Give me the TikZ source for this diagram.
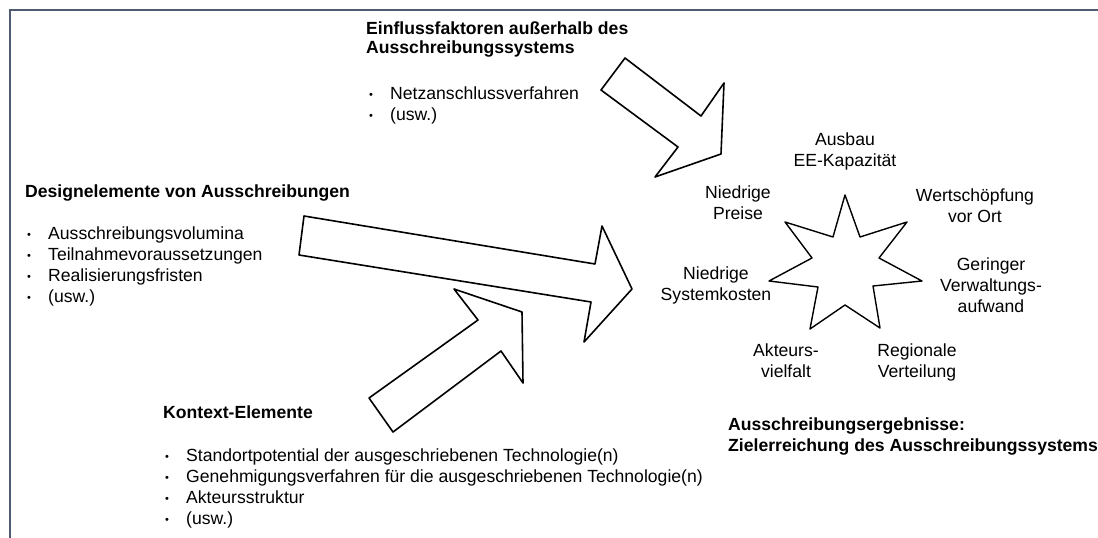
\documentclass[tikz,border=0pt]{standalone}
\usepackage{fontspec}
\setmainfont{Liberation Sans}
\definecolor{framecol}{RGB}{80,90,112}
\newcommand{\bul}{\makebox[21pt][l]{\raisebox{1pt}{\fontsize{11}{11}\selectfont\textbullet}}}
\begin{document}
\begin{tikzpicture}[x=1pt,y=-1pt,
  txt/.style={inner sep=0pt, font=\fontsize{17.6}{21}\selectfont},
  headtxt/.style={inner sep=0pt, font=\fontsize{17.6}{19}\selectfont\bfseries, align=left, anchor=base west},
  lsttxt/.style={txt, align=left, anchor=base west},
  lbl/.style={txt, align=center, anchor=base},
  shapeline/.style={draw=black, line width=1.6pt, fill=white, line join=round}]
\useasboundingbox (0,0) rectangle (1098,538);
\draw[framecol, line width=2pt] (1098,9.5) -- (9.5,9.5) -- (9.5,538);

% arrows
\draw[shapeline] (304,216) -- (595,264) -- (602,226) -- (632,289) -- (584,342) -- (591,302) -- (299,255) -- cycle;
\draw[shapeline] (454,289) -- (522,312) -- (523,383) -- (501,351) -- (393,432) -- (369,398) -- (478,320) -- cycle;
\draw[shapeline] (625,58) -- (701,116) -- (724,83) -- (721,154) -- (655,177) -- (678,147) -- (601,90) -- cycle;
% star
\draw[shapeline, line width=1.4pt] (845,195) -- (860,237) -- (907,222) -- (879,258) -- (922,281) -- (873,286) -- (880,328) -- (845,305) -- (810,329) -- (818,287) -- (769,281) -- (812,258) -- (785,222) -- (833,237) -- cycle;

% texts (base anchor = baseline of last line)
\node[headtxt] (einh) at (366,53) {Einflussfaktoren außerhalb des\\Ausschreibungssystems};
\node[lsttxt] (einl) at (369,120) {\bul Netzanschlussverfahren\\\bul (usw.)};
\node[headtxt] (desh) at (25,197) {Designelemente von Ausschreibungen};
\node[lsttxt] (desl) at (27,302) {\bul Ausschreibungsvolumina\\\bul Teilnahmevoraussetzungen\\\bul Realisierungsfristen\\\bul (usw.)};
\node[headtxt] (konh) at (163,418) {Kontext-Elemente};
\node[lsttxt] (konl) at (165,524) {\bul Standortpotential der ausgeschriebenen Technologie(n)\\\bul Genehmigungsverfahren für die ausgeschriebenen Technologie(n)\\\bul Akteursstruktur\\\bul (usw.)};
\node[headtxt, font=\fontsize{17.6}{21}\selectfont\bfseries] (ergh) at (728,451) {Ausschreibungsergebnisse:\\Zielerreichung des Ausschreibungssystems};

\node[lbl] (l1) at (845,166) {Ausbau\\EE-Kapazität};
\node[lbl] (l2) at (738,219) {Niedrige\\Preise};
\node[lbl] (l3) at (975,222) {Wertschöpfung\\vor Ort};
\node[lbl] (l4) at (991,312) {Geringer\\Verwaltungs-\\aufwand};
\node[lbl] (l5) at (716,300) {Niedrige\\Systemkosten};
\node[lbl] (l6) at (786,377) {Akteurs-\\vielfalt};
\node[lbl] (l7) at (917,377) {Regionale\\Verteilung};
\end{tikzpicture}
\end{document}
